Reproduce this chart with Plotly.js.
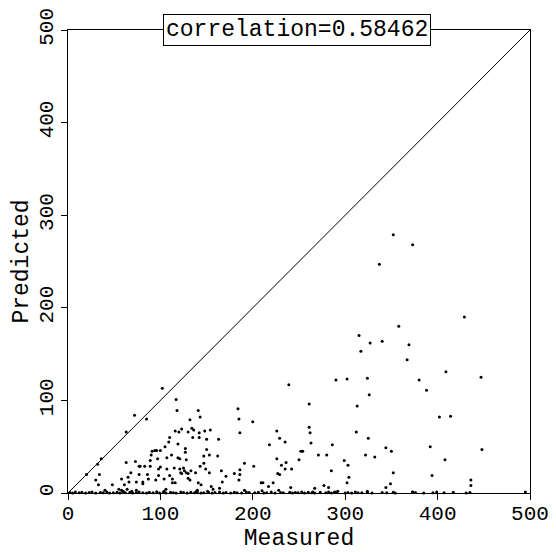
<!DOCTYPE html>
<html>
<head>
<meta charset="utf-8">
<script src="https://cdn.plot.ly/plotly-3.0.1.min.js"></script>
<style>
  html, body { margin: 0; padding: 0; background: #fff; }
  #chart { width: 556px; height: 552px; }
</style>
</head>
<body>
<div id="chart"></div>
<script>
// Measured vs predicted values, one entry per sample
const measured = [
  352, 373, 337, 358, 429, 315, 327, 340, 317, 369, 367, 409, 447, 380, 388,
  239, 290, 302, 324, 326, 261, 313, 402, 414, 392, 448, 408, 394, 436, 436, 373,
  261, 262, 263, 312, 325, 344, 350, 229, 235, 286, 252, 254, 271, 280, 322, 332,
  250, 236, 231, 235, 242, 229, 299, 303, 285, 304, 302, 352, 349, 344, 324, 241,
  267, 277, 282, 292, 289, 265,
  184, 185, 200, 186, 163, 226, 218, 162, 226, 191, 201, 186, 166, 180, 186, 171,
  227, 185, 167, 209, 211, 222, 217, 164, 157, 191, 210, 228,
  102, 85, 117, 118, 141, 143, 132, 116, 120, 123, 130, 134, 136, 142, 148, 154,
  135, 142, 150, 110, 109, 119, 105, 100, 94, 96, 91, 90, 97, 107, 112, 127, 127,
  150, 153, 147, 119, 121, 128, 89, 78, 83, 89, 100, 98, 107, 115, 121, 125, 126,
  128, 122, 123, 130, 133, 138, 143, 147, 149, 153, 110, 86, 95, 98, 87, 77, 81, 81,
  104, 113, 113, 116, 130, 132, 141, 144, 140, 139, 106, 104, 151, 155,
  72, 63, 36, 32, 20, 34, 30, 33, 40, 48, 58, 61, 66, 65, 68, 63, 73, 77, 74, 55,
  58, 60, 64, 69, 74,
  // samples predicted at (or very near) zero
  2, 5, 8, 12, 15, 19, 23, 26, 30, 35, 38, 42, 45, 49, 53, 56, 59, 62, 67, 70, 74,
  77, 81, 85, 88, 92, 96, 99, 103, 106, 111, 114, 117, 122, 125, 129, 133, 137, 140,
  144, 147, 152, 156, 159, 164, 168, 171, 176, 180, 183, 188, 193, 196, 202, 206,
  212, 215, 220, 224, 230, 233, 240, 243, 246, 249, 253, 256, 260, 264, 267, 273,
  279, 282, 285, 288, 290, 300, 303, 307, 311, 314, 318, 324, 329, 340, 345, 352,
  354, 373, 376, 385, 395, 399, 407, 417, 431, 435, 495
];
const predicted = [
  279, 268, 247, 180, 190, 170, 162, 164, 153, 160, 144, 131, 125, 122, 111,
  117, 122, 123, 124, 106, 96, 94, 82, 83, 50, 47, 36, 19, 14, 8, 1,
  71, 65, 54, 66, 59, 49, 45, 59, 55, 52, 45, 45, 41, 41, 41, 39,
  36, 33, 30, 26, 26, 20, 35, 30, 24, 17, 11, 22, 10, 6, 2, 6,
  5, 8, 6, 2, 1, 1,
  91, 80, 77, 65, 58, 67, 52, 40, 37, 32, 29, 25, 24, 21, 20, 18,
  21, 14, 12, 11, 11, 11, 7, 5, 4, 3, 2.5, 3,
  113, 80, 101, 89, 89, 82, 79, 67, 66, 69, 66, 70, 68, 65, 67, 68,
  60, 60, 58, 60, 55, 53, 50, 46, 46, 46, 45, 41, 37, 38, 41, 48, 44,
  47, 41, 40, 38, 37, 36, 35, 29, 29, 29, 28, 26, 26, 27, 26, 27, 24,
  22, 22, 21, 21, 24, 22, 29, 32, 26, 22, 19, 20, 14, 19, 15, 20, 12, 10,
  15, 15, 11, 11, 16, 14, 11, 9, 3, 2, 4, 2, 2, 7,
  84, 66, 37, 31, 20, 20, 14, 9, 3, 9, 15, 9, 12, 17, 22, 33, 34, 29, 12, 4,
  3, 1.5, 4, 2, 3,
  0.5, 0, 1, 0.3, 0.8, 0, 0.5, 1.2, 0, 0.6, 0.2, 1, 0, 0.4, 0.9, 0, 1.5, 0.3, 0.7,
  0, 0.5, 1, 0.2, 0, 0.8, 0.4, 1.3, 0, 0.6, 0.1, 0.9, 0.3, 0, 1.1, 0.5, 0, 0.7,
  0.2, 1, 0, 0.4, 0.8, 0, 0.5, 1.2, 0.1, 0.6, 0, 0.9, 0.3, 0, 1, 0.5, 0.2, 0.7,
  0, 0.4, 1.1, 0, 0.6, 0.3, 0.9, 0, 0.5, 0.2, 1, 0, 0.7, 0.4, 0, 0.8, 0.3, 1.2,
  0, 0.5, 0.9, 0.1, 0.6, 0, 1, 0.4, 0.2, 0.8, 0, 0.5, 0.3, 0.9, 0, 1.1, 0.6,
  0, 0.4, 1, 0.2, 0.7, 0, 0.5, 1, 0.3, 0.6
];

// 1:1 reference line
const diagX = [0, 500];
const diagY = [0, 500];

const correlationText = 'correlation=0.58462';
const xTitle = 'Measured';
const yTitle = 'Predicted';
const tickVals = [0, 100, 200, 300, 400, 500];
const tickText = ['0', '100', '200', '300', '400', '500'];

const FONT = '"Liberation Mono", "DejaVu Sans Mono", monospace';

const traces = [
  {
    x: diagX, y: diagY, type: 'scatter', mode: 'lines',
    line: { color: '#000', width: 1 }, hoverinfo: 'skip'
  },
  {
    x: measured, y: predicted, type: 'scatter', mode: 'markers',
    marker: { color: '#000', size: 3 }, cliponaxis: false
  }
];

const axisCommon = {
  range: [0, 500],
  tickvals: tickVals,
  ticktext: tickText,
  showgrid: false,
  zeroline: false,
  showline: true,
  mirror: true,
  linecolor: '#000',
  linewidth: 1,
  ticks: 'outside',
  ticklen: 6,
  tickcolor: '#000',
  tickfont: { family: FONT, size: 21, color: '#000' }
};

const layout = {
  width: 556, height: 552,
  margin: { l: 68, r: 26, t: 30, b: 59 },
  paper_bgcolor: '#fff', plot_bgcolor: '#fff',
  showlegend: false,
  font: { family: FONT, color: '#000' },
  xaxis: Object.assign({}, axisCommon, {
    ticklabelstandoff: -5,
    title: { text: xTitle, font: { family: FONT, size: 23, color: '#000' }, standoff: 4 }
  }),
  yaxis: Object.assign({}, axisCommon, {
    tickangle: -90,
    ticklabelstandoff: 0,
    title: { text: yTitle, font: { family: FONT, size: 23, color: '#000' }, standoff: 0 }
  }),
  annotations: [{
    text: correlationText,
    xref: 'paper', yref: 'paper', x: 0.495, y: 1,
    xanchor: 'center', yanchor: 'middle', showarrow: false,
    font: { family: FONT, size: 23, color: '#000' },
    bgcolor: '#fff', bordercolor: '#000', borderwidth: 1, borderpad: 2
  }]
};

Plotly.newPlot('chart', traces, layout, { displayModeBar: false, staticPlot: true });
</script>
</body>
</html>
